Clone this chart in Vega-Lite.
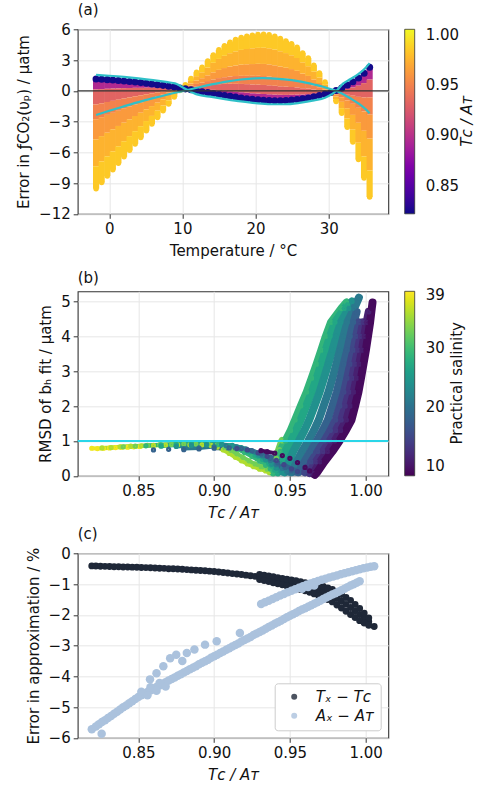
{
"$schema":"https://vega.github.io/schema/vega-lite/v6.json",
"autosize":{"type":"none"},
"padding":{"left":77.7,"top":29.3,"right":399.3,"bottom":757.7},
"bounds":"flush",
"spacing":77,
"config":{
"font":"DejaVu Sans",
"view":{"stroke":"#333333","strokeWidth":1.1},
"axis":{"domain":false,"labelFont":"DejaVu Sans","titleFont":"DejaVu Sans","labelFontSize":15,"titleFontSize":15,"titleFontWeight":"normal","labelColor":"#111","titleColor":"#111","tickColor":"#333","tickSize":4.5,"tickWidth":1,"gridColor":"#e6e6e6","gridWidth":1,"labelPadding":3,"titlePadding":7,"labelFlush":false,"labelOverlap":false},
"legend":{"labelFont":"DejaVu Sans","titleFont":"DejaVu Sans","labelFontSize":15,"titleFontSize":15,"titleFontWeight":"normal","labelColor":"#111","titleColor":"#111","gradientThickness":10,"gradientLength":184.5,"gradientStrokeColor":"#333","gradientStrokeWidth":0.8,"padding":0,"offset":15.7,"titleOrient":"right","titleAnchor":"middle","titleAlign":"center","titleBaseline":"top","titlePadding":5},
"title":{"anchor":"start","frame":"group","fontSize":15,"fontWeight":"normal","offset":0,"color":"#111","font":"DejaVu Sans"}
},
"datasets":{
"segs":[
{"t":-1.8,"a":1.15,"b":0.13,"r":0.895},{"t":-1.8,"a":0.13,"b":-1.33,"r":0.932},{"t":-1.8,"a":-1.33,"b":-2.77,"r":0.95},{"t":-1.8,"a":-2.77,"b":-4.74,"r":0.963},{"t":-1.8,"a":-4.74,"b":-7.36,"r":0.975},{"t":-1.8,"a":-7.36,"b":-9.55,"r":0.985},
{"t":-1.04,"a":1.12,"b":0.16,"r":0.895},{"t":-1.04,"a":0.16,"b":-1.22,"r":0.932},{"t":-1.04,"a":-1.22,"b":-2.57,"r":0.95},{"t":-1.04,"a":-2.57,"b":-4.42,"r":0.963},{"t":-1.04,"a":-4.42,"b":-6.89,"r":0.975},{"t":-1.04,"a":-6.89,"b":-8.95,"r":0.985},
{"t":-0.27,"a":1.09,"b":0.2,"r":0.895},{"t":-0.27,"a":0.2,"b":-1.09,"r":0.932},{"t":-0.27,"a":-1.09,"b":-2.35,"r":0.95},{"t":-0.27,"a":-2.35,"b":-4.09,"r":0.963},{"t":-0.27,"a":-4.09,"b":-6.39,"r":0.975},{"t":-0.27,"a":-6.39,"b":-8.32,"r":0.985},
{"t":0.49,"a":1.05,"b":0.22,"r":0.895},{"t":0.49,"a":0.22,"b":-0.98,"r":0.932},{"t":0.49,"a":-0.98,"b":-2.15,"r":0.95},{"t":0.49,"a":-2.15,"b":-3.76,"r":0.963},{"t":0.49,"a":-3.76,"b":-5.91,"r":0.975},{"t":0.49,"a":-5.91,"b":-7.7,"r":0.985},
{"t":1.25,"a":1.01,"b":0.24,"r":0.895},{"t":1.25,"a":0.24,"b":-0.87,"r":0.932},{"t":1.25,"a":-0.87,"b":-1.95,"r":0.95},{"t":1.25,"a":-1.95,"b":-3.43,"r":0.963},{"t":1.25,"a":-3.43,"b":-5.41,"r":0.975},{"t":1.25,"a":-5.41,"b":-7.07,"r":0.985},
{"t":2.02,"a":0.96,"b":0.26,"r":0.895},{"t":2.02,"a":0.26,"b":-0.76,"r":0.932},{"t":2.02,"a":-0.76,"b":-1.75,"r":0.95},{"t":2.02,"a":-1.75,"b":-3.11,"r":0.963},{"t":2.02,"a":-3.11,"b":-4.92,"r":0.975},{"t":2.02,"a":-4.92,"b":-6.44,"r":0.985},
{"t":2.78,"a":0.91,"b":0.27,"r":0.895},{"t":2.78,"a":0.27,"b":-0.65,"r":0.932},{"t":2.78,"a":-0.65,"b":-1.55,"r":0.95},{"t":2.78,"a":-1.55,"b":-2.78,"r":0.963},{"t":2.78,"a":-2.78,"b":-4.42,"r":0.975},{"t":2.78,"a":-4.42,"b":-5.8,"r":0.985},
{"t":3.54,"a":0.86,"b":0.29,"r":0.895},{"t":3.54,"a":0.29,"b":-0.54,"r":0.932},{"t":3.54,"a":-0.54,"b":-1.35,"r":0.95},{"t":3.54,"a":-1.35,"b":-2.46,"r":0.963},{"t":3.54,"a":-2.46,"b":-3.94,"r":0.975},{"t":3.54,"a":-3.94,"b":-5.18,"r":0.985},
{"t":4.31,"a":0.8,"b":0.29,"r":0.895},{"t":4.31,"a":0.29,"b":-0.44,"r":0.932},{"t":4.31,"a":-0.44,"b":-1.16,"r":0.95},{"t":4.31,"a":-1.16,"b":-2.14,"r":0.963},{"t":4.31,"a":-2.14,"b":-3.45,"r":0.975},{"t":4.31,"a":-3.45,"b":-4.55,"r":0.985},
{"t":5.07,"a":0.74,"b":0.3,"r":0.895},{"t":5.07,"a":0.3,"b":-0.34,"r":0.932},{"t":5.07,"a":-0.34,"b":-0.96,"r":0.95},{"t":5.07,"a":-0.96,"b":-1.81,"r":0.963},{"t":5.07,"a":-1.81,"b":-2.95,"r":0.975},{"t":5.07,"a":-2.95,"b":-3.9,"r":0.985},
{"t":5.83,"a":0.67,"b":0.3,"r":0.895},{"t":5.83,"a":0.3,"b":-0.24,"r":0.932},{"t":5.83,"a":-0.24,"b":-0.77,"r":0.95},{"t":5.83,"a":-0.77,"b":-1.49,"r":0.963},{"t":5.83,"a":-1.49,"b":-2.45,"r":0.975},{"t":5.83,"a":-2.45,"b":-3.25,"r":0.985},
{"t":6.6,"a":0.6,"b":0.3,"r":0.895},{"t":6.6,"a":0.3,"b":-0.14,"r":0.932},{"t":6.6,"a":-0.14,"b":-0.57,"r":0.95},{"t":6.6,"a":-0.57,"b":-1.16,"r":0.963},{"t":6.6,"a":-1.16,"b":-1.94,"r":0.975},{"t":6.6,"a":-1.94,"b":-2.6,"r":0.985},
{"t":7.36,"a":0.53,"b":0.29,"r":0.895},{"t":7.36,"a":0.29,"b":-0.05,"r":0.932},{"t":7.36,"a":-0.05,"b":-0.38,"r":0.95},{"t":7.36,"a":-0.38,"b":-0.83,"r":0.963},{"t":7.36,"a":-0.83,"b":-1.44,"r":0.975},{"t":7.36,"a":-1.44,"b":-1.95,"r":0.985},
{"t":8.12,"a":0.45,"b":0.29,"r":0.895},{"t":8.12,"a":0.29,"b":0.05,"r":0.932},{"t":8.12,"a":0.05,"b":-0.18,"r":0.95},{"t":8.12,"a":-0.18,"b":-0.5,"r":0.963},{"t":8.12,"a":-0.5,"b":-0.93,"r":0.975},{"t":8.12,"a":-0.93,"b":-1.28,"r":0.985},
{"t":8.89,"a":0.37,"b":0.28,"r":0.895},{"t":8.89,"a":0.28,"b":0.15,"r":0.932},{"t":8.89,"a":0.15,"b":0.02,"r":0.95},{"t":8.89,"a":0.02,"b":-0.16,"r":0.963},{"t":8.89,"a":-0.16,"b":-0.4,"r":0.975},{"t":8.89,"a":-0.4,"b":-0.6,"r":0.985},
{"t":9.65,"a":0.28,"b":0.26,"r":0.895},{"t":9.65,"a":0.26,"b":0.22,"r":0.932},{"t":9.65,"a":0.22,"b":0.19,"r":0.95},{"t":9.65,"a":0.19,"b":0.15,"r":0.963},{"t":9.65,"a":0.15,"b":0.09,"r":0.975},{"t":9.65,"a":0.09,"b":0.04,"r":0.985},
{"t":10.41,"a":0.19,"b":0.23,"r":0.895},{"t":10.41,"a":0.23,"b":0.29,"r":0.932},{"t":10.41,"a":0.29,"b":0.34,"r":0.95},{"t":10.41,"a":0.34,"b":0.42,"r":0.963},{"t":10.41,"a":0.42,"b":0.52,"r":0.975},{"t":10.41,"a":0.52,"b":0.6,"r":0.985},
{"t":11.18,"a":0.1,"b":0.21,"r":0.895},{"t":11.18,"a":0.21,"b":0.36,"r":0.932},{"t":11.18,"a":0.36,"b":0.5,"r":0.95},{"t":11.18,"a":0.5,"b":0.71,"r":0.963},{"t":11.18,"a":0.71,"b":0.98,"r":0.975},{"t":11.18,"a":0.98,"b":1.2,"r":0.985},
{"t":11.94,"a":0.01,"b":0.18,"r":0.895},{"t":11.94,"a":0.18,"b":0.43,"r":0.932},{"t":11.94,"a":0.43,"b":0.67,"r":0.95},{"t":11.94,"a":0.67,"b":1.0,"r":0.963},{"t":11.94,"a":1.0,"b":1.43,"r":0.975},{"t":11.94,"a":1.43,"b":1.8,"r":0.985},
{"t":12.7,"a":-0.09,"b":0.14,"r":0.895},{"t":12.7,"a":0.14,"b":0.46,"r":0.932},{"t":12.7,"a":0.46,"b":0.79,"r":0.95},{"t":12.7,"a":0.79,"b":1.23,"r":0.963},{"t":12.7,"a":1.23,"b":1.81,"r":0.975},{"t":12.7,"a":1.81,"b":2.3,"r":0.985},
{"t":13.47,"a":-0.18,"b":0.11,"r":0.895},{"t":13.47,"a":0.11,"b":0.54,"r":0.932},{"t":13.47,"a":0.54,"b":0.95,"r":0.95},{"t":13.47,"a":0.95,"b":1.51,"r":0.963},{"t":13.47,"a":1.51,"b":2.27,"r":0.975},{"t":13.47,"a":2.27,"b":2.9,"r":0.985},
{"t":14.23,"a":-0.27,"b":0.09,"r":0.895},{"t":14.23,"a":0.09,"b":0.61,"r":0.932},{"t":14.23,"a":0.61,"b":1.11,"r":0.95},{"t":14.23,"a":1.11,"b":1.8,"r":0.963},{"t":14.23,"a":1.8,"b":2.73,"r":0.975},{"t":14.23,"a":2.73,"b":3.5,"r":0.985},
{"t":14.99,"a":-0.36,"b":0.05,"r":0.895},{"t":14.99,"a":0.05,"b":0.65,"r":0.932},{"t":14.99,"a":0.65,"b":1.24,"r":0.95},{"t":14.99,"a":1.24,"b":2.04,"r":0.963},{"t":14.99,"a":2.04,"b":3.11,"r":0.975},{"t":14.99,"a":3.11,"b":4.0,"r":0.985},
{"t":15.76,"a":-0.45,"b":0.01,"r":0.895},{"t":15.76,"a":0.01,"b":0.68,"r":0.932},{"t":15.76,"a":0.68,"b":1.33,"r":0.95},{"t":15.76,"a":1.33,"b":2.22,"r":0.963},{"t":15.76,"a":2.22,"b":3.41,"r":0.975},{"t":15.76,"a":3.41,"b":4.4,"r":0.985},
{"t":16.52,"a":-0.54,"b":-0.04,"r":0.895},{"t":16.52,"a":-0.04,"b":0.69,"r":0.932},{"t":16.52,"a":0.69,"b":1.4,"r":0.95},{"t":16.52,"a":1.4,"b":2.37,"r":0.963},{"t":16.52,"a":2.37,"b":3.67,"r":0.975},{"t":16.52,"a":3.67,"b":4.75,"r":0.985},
{"t":17.28,"a":-0.62,"b":-0.09,"r":0.895},{"t":17.28,"a":-0.09,"b":0.68,"r":0.932},{"t":17.28,"a":0.68,"b":1.44,"r":0.95},{"t":17.28,"a":1.44,"b":2.47,"r":0.963},{"t":17.28,"a":2.47,"b":3.85,"r":0.975},{"t":17.28,"a":3.85,"b":5.0,"r":0.985},
{"t":18.05,"a":-0.7,"b":-0.14,"r":0.895},{"t":18.05,"a":-0.14,"b":0.67,"r":0.932},{"t":18.05,"a":0.67,"b":1.46,"r":0.95},{"t":18.05,"a":1.46,"b":2.55,"r":0.963},{"t":18.05,"a":2.55,"b":3.99,"r":0.975},{"t":18.05,"a":3.99,"b":5.2,"r":0.985},
{"t":18.81,"a":-0.77,"b":-0.19,"r":0.895},{"t":18.81,"a":-0.19,"b":0.65,"r":0.932},{"t":18.81,"a":0.65,"b":1.46,"r":0.95},{"t":18.81,"a":1.46,"b":2.59,"r":0.963},{"t":18.81,"a":2.59,"b":4.08,"r":0.975},{"t":18.81,"a":4.08,"b":5.33,"r":0.985},
{"t":19.57,"a":-0.83,"b":-0.24,"r":0.895},{"t":19.57,"a":-0.24,"b":0.62,"r":0.932},{"t":19.57,"a":0.62,"b":1.46,"r":0.95},{"t":19.57,"a":1.46,"b":2.61,"r":0.963},{"t":19.57,"a":2.61,"b":4.15,"r":0.975},{"t":19.57,"a":4.15,"b":5.43,"r":0.985},
{"t":20.34,"a":-0.88,"b":-0.27,"r":0.895},{"t":20.34,"a":-0.27,"b":0.6,"r":0.932},{"t":20.34,"a":0.6,"b":1.46,"r":0.95},{"t":20.34,"a":1.46,"b":2.63,"r":0.963},{"t":20.34,"a":2.63,"b":4.19,"r":0.975},{"t":20.34,"a":4.19,"b":5.5,"r":0.985},
{"t":21.1,"a":-0.92,"b":-0.31,"r":0.895},{"t":21.1,"a":-0.31,"b":0.57,"r":0.932},{"t":21.1,"a":0.57,"b":1.44,"r":0.95},{"t":21.1,"a":1.44,"b":2.62,"r":0.963},{"t":21.1,"a":2.62,"b":4.2,"r":0.975},{"t":21.1,"a":4.2,"b":5.52,"r":0.985},
{"t":21.86,"a":-0.95,"b":-0.34,"r":0.895},{"t":21.86,"a":-0.34,"b":0.54,"r":0.932},{"t":21.86,"a":0.54,"b":1.4,"r":0.95},{"t":21.86,"a":1.4,"b":2.58,"r":0.963},{"t":21.86,"a":2.58,"b":4.15,"r":0.975},{"t":21.86,"a":4.15,"b":5.46,"r":0.985},
{"t":22.63,"a":-0.97,"b":-0.37,"r":0.895},{"t":22.63,"a":-0.37,"b":0.49,"r":0.932},{"t":22.63,"a":0.49,"b":1.33,"r":0.95},{"t":22.63,"a":1.33,"b":2.49,"r":0.963},{"t":22.63,"a":2.49,"b":4.03,"r":0.975},{"t":22.63,"a":4.03,"b":5.32,"r":0.985},
{"t":23.39,"a":-0.97,"b":-0.39,"r":0.895},{"t":23.39,"a":-0.39,"b":0.44,"r":0.932},{"t":23.39,"a":0.44,"b":1.25,"r":0.95},{"t":23.39,"a":1.25,"b":2.37,"r":0.963},{"t":23.39,"a":2.37,"b":3.86,"r":0.975},{"t":23.39,"a":3.86,"b":5.1,"r":0.985},
{"t":24.15,"a":-0.95,"b":-0.4,"r":0.895},{"t":24.15,"a":-0.4,"b":0.4,"r":0.932},{"t":24.15,"a":0.4,"b":1.18,"r":0.95},{"t":24.15,"a":1.18,"b":2.25,"r":0.963},{"t":24.15,"a":2.25,"b":3.68,"r":0.975},{"t":24.15,"a":3.68,"b":4.87,"r":0.985},
{"t":24.92,"a":-0.91,"b":-0.39,"r":0.895},{"t":24.92,"a":-0.39,"b":0.37,"r":0.932},{"t":24.92,"a":0.37,"b":1.11,"r":0.95},{"t":24.92,"a":1.11,"b":2.12,"r":0.963},{"t":24.92,"a":2.12,"b":3.47,"r":0.975},{"t":24.92,"a":3.47,"b":4.6,"r":0.985},
{"t":25.68,"a":-0.86,"b":-0.37,"r":0.895},{"t":25.68,"a":-0.37,"b":0.33,"r":0.932},{"t":25.68,"a":0.33,"b":1.01,"r":0.95},{"t":25.68,"a":1.01,"b":1.95,"r":0.963},{"t":25.68,"a":1.95,"b":3.2,"r":0.975},{"t":25.68,"a":3.2,"b":4.25,"r":0.985},
{"t":26.44,"a":-0.79,"b":-0.36,"r":0.895},{"t":26.44,"a":-0.36,"b":0.25,"r":0.932},{"t":26.44,"a":0.25,"b":0.85,"r":0.95},{"t":26.44,"a":0.85,"b":1.68,"r":0.963},{"t":26.44,"a":1.68,"b":2.78,"r":0.975},{"t":26.44,"a":2.78,"b":3.7,"r":0.985},
{"t":27.21,"a":-0.7,"b":-0.33,"r":0.895},{"t":27.21,"a":-0.33,"b":0.21,"r":0.932},{"t":27.21,"a":0.21,"b":0.73,"r":0.95},{"t":27.21,"a":0.73,"b":1.45,"r":0.963},{"t":27.21,"a":1.45,"b":2.4,"r":0.975},{"t":27.21,"a":2.4,"b":3.2,"r":0.985},
{"t":27.97,"a":-0.59,"b":-0.3,"r":0.895},{"t":27.97,"a":-0.3,"b":0.13,"r":0.932},{"t":27.97,"a":0.13,"b":0.54,"r":0.95},{"t":27.97,"a":0.54,"b":1.11,"r":0.963},{"t":27.97,"a":1.11,"b":1.87,"r":0.975},{"t":27.97,"a":1.87,"b":2.5,"r":0.985},
{"t":28.73,"a":-0.46,"b":-0.25,"r":0.895},{"t":28.73,"a":-0.25,"b":0.05,"r":0.932},{"t":28.73,"a":0.05,"b":0.35,"r":0.95},{"t":28.73,"a":0.35,"b":0.76,"r":0.963},{"t":28.73,"a":0.76,"b":1.3,"r":0.975},{"t":28.73,"a":1.3,"b":1.75,"r":0.985},
{"t":29.5,"a":-0.32,"b":-0.21,"r":0.895},{"t":29.5,"a":-0.21,"b":-0.05,"r":0.932},{"t":29.5,"a":-0.05,"b":0.11,"r":0.95},{"t":29.5,"a":0.11,"b":0.32,"r":0.963},{"t":29.5,"a":0.32,"b":0.61,"r":0.975},{"t":29.5,"a":0.61,"b":0.85,"r":0.985},
{"t":30.26,"a":-0.16,"b":-0.17,"r":0.895},{"t":30.26,"a":-0.17,"b":-0.18,"r":0.932},{"t":30.26,"a":-0.18,"b":-0.19,"r":0.95},{"t":30.26,"a":-0.19,"b":-0.21,"r":0.963},{"t":30.26,"a":-0.21,"b":-0.23,"r":0.975},{"t":30.26,"a":-0.23,"b":-0.25,"r":0.985},
{"t":31.02,"a":0.03,"b":-0.07,"r":0.895},{"t":31.02,"a":-0.07,"b":-0.22,"r":0.932},{"t":31.02,"a":-0.22,"b":-0.37,"r":0.95},{"t":31.02,"a":-0.37,"b":-0.56,"r":0.963},{"t":31.02,"a":-0.56,"b":-0.83,"r":0.975},{"t":31.02,"a":-0.83,"b":-1.05,"r":0.985},
{"t":31.79,"a":0.28,"b":0.04,"r":0.895},{"t":31.79,"a":0.04,"b":-0.3,"r":0.932},{"t":31.79,"a":-0.3,"b":-0.63,"r":0.95},{"t":31.79,"a":-0.63,"b":-1.08,"r":0.963},{"t":31.79,"a":-1.08,"b":-1.69,"r":0.975},{"t":31.79,"a":-1.69,"b":-2.2,"r":0.985},
{"t":32.55,"a":0.57,"b":0.18,"r":0.895},{"t":32.55,"a":0.18,"b":-0.39,"r":0.932},{"t":32.55,"a":-0.39,"b":-0.94,"r":0.95},{"t":32.55,"a":-0.94,"b":-1.7,"r":0.963},{"t":32.55,"a":-1.7,"b":-2.71,"r":0.975},{"t":32.55,"a":-2.71,"b":-3.55,"r":0.985},
{"t":33.31,"a":0.88,"b":0.32,"r":0.895},{"t":33.31,"a":0.32,"b":-0.48,"r":0.932},{"t":33.31,"a":-0.48,"b":-1.27,"r":0.95},{"t":33.31,"a":-1.27,"b":-2.35,"r":0.963},{"t":33.31,"a":-2.35,"b":-3.79,"r":0.975},{"t":33.31,"a":-3.79,"b":-5.0,"r":0.985},
{"t":34.08,"a":1.25,"b":0.5,"r":0.895},{"t":34.08,"a":0.5,"b":-0.59,"r":0.932},{"t":34.08,"a":-0.59,"b":-1.66,"r":0.95},{"t":34.08,"a":-1.66,"b":-3.12,"r":0.963},{"t":34.08,"a":-3.12,"b":-5.07,"r":0.975},{"t":34.08,"a":-5.07,"b":-6.7,"r":0.985},
{"t":34.84,"a":1.72,"b":0.75,"r":0.895},{"t":34.84,"a":0.75,"b":-0.65,"r":0.932},{"t":34.84,"a":-0.65,"b":-2.02,"r":0.95},{"t":34.84,"a":-2.02,"b":-3.9,"r":0.963},{"t":34.84,"a":-3.9,"b":-6.41,"r":0.975},{"t":34.84,"a":-6.41,"b":-8.5,"r":0.985},
{"t":35.6,"a":2.3,"b":1.1,"r":0.895},{"t":35.6,"a":1.1,"b":-0.64,"r":0.932},{"t":35.6,"a":-0.64,"b":-2.33,"r":0.95},{"t":35.6,"a":-2.33,"b":-4.66,"r":0.963},{"t":35.6,"a":-4.66,"b":-7.77,"r":0.975},{"t":35.6,"a":-7.77,"b":-10.36,"r":0.985}
],
"fits":[
{"t":-1.8,"v":1.55,"k":"A"},{"t":0,"v":1.47,"k":"A"},{"t":2,"v":1.36,"k":"A"},{"t":4,"v":1.22,"k":"A"},{"t":6,"v":1.05,"k":"A"},{"t":8,"v":0.84,"k":"A"},{"t":9,"v":0.72,"k":"A"},{"t":10.4,"v":0.2,"k":"A"},{"t":12,"v":-0.35,"k":"A"},{"t":14,"v":-0.6,"k":"A"},{"t":16,"v":-0.83,"k":"A"},{"t":18,"v":-1.04,"k":"A"},{"t":20,"v":-1.21,"k":"A"},{"t":22,"v":-1.31,"k":"A"},{"t":24,"v":-1.31,"k":"A"},{"t":26,"v":-1.18,"k":"A"},{"t":28,"v":-0.94,"k":"A"},{"t":29.5,"v":-0.67,"k":"A"},{"t":30.5,"v":-0.3,"k":"A"},{"t":31.2,"v":0.1,"k":"A"},{"t":32,"v":0.72,"k":"A"},{"t":33,"v":1.15,"k":"A"},{"t":34,"v":1.6,"k":"A"},{"t":35,"v":2.2,"k":"A"},{"t":35.6,"v":2.7,"k":"A"},
{"t":-1.8,"v":-2.36,"k":"B"},{"t":0,"v":-1.95,"k":"B"},{"t":2,"v":-1.52,"k":"B"},{"t":4,"v":-1.1,"k":"B"},{"t":6,"v":-0.72,"k":"B"},{"t":8,"v":-0.36,"k":"B"},{"t":10,"v":-0.03,"k":"B"},{"t":12,"v":0.3,"k":"B"},{"t":14,"v":0.62,"k":"B"},{"t":16,"v":0.9,"k":"B"},{"t":18,"v":1.1,"k":"B"},{"t":20,"v":1.21,"k":"B"},{"t":21,"v":1.23,"k":"B"},{"t":22,"v":1.21,"k":"B"},{"t":24,"v":1.12,"k":"B"},{"t":26,"v":0.92,"k":"B"},{"t":28,"v":0.62,"k":"B"},{"t":29,"v":0.45,"k":"B"},{"t":30,"v":0.22,"k":"B"},{"t":31,"v":0.0,"k":"B"},{"t":32,"v":-0.33,"k":"B"},{"t":33,"v":-0.75,"k":"B"},{"t":34,"v":-1.2,"k":"B"},{"t":35,"v":-1.75,"k":"B"},{"t":35.6,"v":-2.2,"k":"B"}
],
"rmsd":[
{"r":0.8193,"m":0.79,"s":39},{"r":0.823,"m":0.78,"s":39},{"r":0.827,"m":0.79,"s":39},{"r":0.831,"m":0.8,"s":39},{"r":0.835,"m":0.81,"s":39},{"r":0.839,"m":0.82,"s":39},{"r":0.843,"m":0.82,"s":39},{"r":0.847,"m":0.83,"s":39},{"r":0.851,"m":0.84,"s":39},
{"r":0.826,"m":0.8,"s":36},{"r":0.832,"m":0.81,"s":36},{"r":0.838,"m":0.83,"s":36},{"r":0.845,"m":0.85,"s":36},{"r":0.852,"m":0.86,"s":36},{"r":0.86,"m":0.87,"s":36},{"r":0.868,"m":0.88,"s":36},{"r":0.876,"m":0.89,"s":36},{"r":0.884,"m":0.89,"s":36},{"r":0.892,"m":0.89,"s":36},{"r":0.898,"m":0.87,"s":36},{"r":0.902,"m":0.82,"s":36},{"r":0.906,"m":0.74,"s":36},{"r":0.91,"m":0.64,"s":36},{"r":0.914,"m":0.53,"s":36},{"r":0.918,"m":0.43,"s":36},{"r":0.922,"m":0.34,"s":36},{"r":0.926,"m":0.26,"s":36},{"r":0.93,"m":0.19,"s":36},{"r":0.934,"m":0.14,"s":36},{"r":0.937,"m":0.12,"s":36},
{"r":0.84,"m":0.83,"s":33},{"r":0.848,"m":0.85,"s":33},{"r":0.856,"m":0.87,"s":33},{"r":0.864,"m":0.89,"s":33},{"r":0.872,"m":0.9,"s":33},{"r":0.88,"m":0.91,"s":33},{"r":0.888,"m":0.91,"s":33},{"r":0.896,"m":0.91,"s":33},{"r":0.902,"m":0.88,"s":33},{"r":0.907,"m":0.82,"s":33},{"r":0.911,"m":0.73,"s":33},{"r":0.915,"m":0.63,"s":33},{"r":0.919,"m":0.53,"s":33},{"r":0.923,"m":0.43,"s":33},{"r":0.927,"m":0.34,"s":33},{"r":0.931,"m":0.26,"s":33},{"r":0.935,"m":0.19,"s":33},{"r":0.938,"m":0.15,"s":33},{"r":0.9395,"m":0.3,"s":33},{"r":0.941,"m":0.5,"s":33},{"r":0.943,"m":0.75,"s":33},{"r":0.945,"m":1.0,"s":33},
{"r":0.855,"m":0.86,"s":29},{"r":0.865,"m":0.89,"s":29},{"r":0.875,"m":0.91,"s":29},{"r":0.885,"m":0.92,"s":29},{"r":0.895,"m":0.92,"s":29},{"r":0.903,"m":0.9,"s":29},{"r":0.909,"m":0.85,"s":29},{"r":0.915,"m":0.77,"s":29},{"r":0.92,"m":0.67,"s":29},{"r":0.925,"m":0.55,"s":29},{"r":0.93,"m":0.42,"s":29},{"r":0.934,"m":0.3,"s":29},{"r":0.937,"m":0.2,"s":29},{"r":0.939,"m":0.1,"s":29},{"r":0.9415,"m":0.4,"s":29},{"r":0.9436,"m":0.7,"s":29},{"r":0.9471,"m":1.0,"s":29},{"r":0.9505,"m":1.3,"s":29},{"r":0.9534,"m":1.6,"s":29},{"r":0.9572,"m":2.0,"s":29},{"r":0.9611,"m":2.4,"s":29},{"r":0.9644,"m":2.8,"s":29},{"r":0.9676,"m":3.2,"s":29},{"r":0.9707,"m":3.6,"s":29},{"r":0.9737,"m":4.0,"s":29},{"r":0.9771,"m":4.4,"s":29},{"r":0.984,"m":4.8,"s":29},{"r":0.9874,"m":4.97,"s":29},
{"r":0.865,"m":0.85,"s":27},{"r":0.875,"m":0.88,"s":27},{"r":0.885,"m":0.9,"s":27},{"r":0.895,"m":0.91,"s":27},{"r":0.905,"m":0.9,"s":27},{"r":0.911,"m":0.86,"s":27},{"r":0.917,"m":0.79,"s":27},{"r":0.922,"m":0.7,"s":27},{"r":0.927,"m":0.59,"s":27},{"r":0.932,"m":0.47,"s":27},{"r":0.936,"m":0.36,"s":27},{"r":0.938,"m":0.28,"s":27},{"r":0.94,"m":0.16,"s":27},{"r":0.9419,"m":0.1,"s":27},{"r":0.9446,"m":0.4,"s":27},{"r":0.947,"m":0.7,"s":27},{"r":0.9507,"m":1.0,"s":27},{"r":0.9541,"m":1.3,"s":27},{"r":0.9571,"m":1.6,"s":27},{"r":0.9608,"m":2.0,"s":27},{"r":0.9645,"m":2.4,"s":27},{"r":0.9677,"m":2.8,"s":27},{"r":0.9707,"m":3.2,"s":27},{"r":0.9736,"m":3.6,"s":27},{"r":0.9765,"m":4.0,"s":27},{"r":0.9797,"m":4.4,"s":27},{"r":0.986,"m":4.8,"s":27},{"r":0.988,"m":4.9,"s":27},
{"r":0.875,"m":0.84,"s":24},{"r":0.885,"m":0.87,"s":24},{"r":0.895,"m":0.89,"s":24},{"r":0.905,"m":0.9,"s":24},{"r":0.912,"m":0.87,"s":24},{"r":0.918,"m":0.81,"s":24},{"r":0.924,"m":0.72,"s":24},{"r":0.929,"m":0.6,"s":24},{"r":0.934,"m":0.46,"s":24},{"r":0.938,"m":0.33,"s":24},{"r":0.941,"m":0.22,"s":24},{"r":0.944,"m":0.14,"s":24},{"r":0.9463,"m":0.1,"s":24},{"r":0.9493,"m":0.4,"s":24},{"r":0.9522,"m":0.7,"s":24},{"r":0.956,"m":1.0,"s":24},{"r":0.9596,"m":1.3,"s":24},{"r":0.9627,"m":1.6,"s":24},{"r":0.9662,"m":2.0,"s":24},{"r":0.9696,"m":2.4,"s":24},{"r":0.9725,"m":2.8,"s":24},{"r":0.9753,"m":3.2,"s":24},{"r":0.9781,"m":3.6,"s":24},{"r":0.9807,"m":4.0,"s":24},{"r":0.9836,"m":4.4,"s":24},{"r":0.989,"m":4.8,"s":24},{"r":0.991,"m":5.0,"s":24},
{"r":0.88,"m":0.78,"s":21},{"r":0.89,"m":0.8,"s":21},{"r":0.9,"m":0.84,"s":21},{"r":0.908,"m":0.86,"s":21},{"r":0.915,"m":0.83,"s":21},{"r":0.921,"m":0.77,"s":21},{"r":0.927,"m":0.68,"s":21},{"r":0.932,"m":0.57,"s":21},{"r":0.937,"m":0.44,"s":21},{"r":0.941,"m":0.32,"s":21},{"r":0.945,"m":0.21,"s":21},{"r":0.948,"m":0.13,"s":21},{"r":0.9512,"m":0.1,"s":21},{"r":0.9546,"m":0.4,"s":21},{"r":0.958,"m":0.7,"s":21},{"r":0.9621,"m":1.0,"s":21},{"r":0.9658,"m":1.3,"s":21},{"r":0.969,"m":1.6,"s":21},{"r":0.9722,"m":2.0,"s":21},{"r":0.9754,"m":2.4,"s":21},{"r":0.9781,"m":2.8,"s":21},{"r":0.9806,"m":3.2,"s":21},{"r":0.983,"m":3.6,"s":21},{"r":0.9854,"m":4.0,"s":21},{"r":0.9879,"m":4.4,"s":21},{"r":0.9924,"m":4.8,"s":21},{"r":0.9955,"m":5.11,"s":21},
{"r":0.86,"m":0.74,"s":18},{"r":0.87,"m":0.76,"s":18},{"r":0.88,"m":0.75,"s":18},{"r":0.89,"m":0.77,"s":18},{"r":0.9,"m":0.79,"s":18},{"r":0.91,"m":0.8,"s":18},{"r":0.918,"m":0.78,"s":18},{"r":0.925,"m":0.72,"s":18},{"r":0.931,"m":0.63,"s":18},{"r":0.937,"m":0.5,"s":18},{"r":0.942,"m":0.37,"s":18},{"r":0.947,"m":0.24,"s":18},{"r":0.951,"m":0.14,"s":18},{"r":0.9558,"m":0.1,"s":18},{"r":0.9596,"m":0.4,"s":18},{"r":0.9636,"m":0.7,"s":18},{"r":0.9677,"m":1.0,"s":18},{"r":0.9716,"m":1.3,"s":18},{"r":0.975,"m":1.6,"s":18},{"r":0.978,"m":2.0,"s":18},{"r":0.9809,"m":2.4,"s":18},{"r":0.9833,"m":2.8,"s":18},{"r":0.9855,"m":3.2,"s":18},{"r":0.9878,"m":3.6,"s":18},{"r":0.9898,"m":4.0,"s":18},{"r":0.9921,"m":4.4,"s":18},{"r":0.994,"m":4.7,"s":18},
{"r":0.915,"m":0.78,"s":15},{"r":0.922,"m":0.74,"s":15},{"r":0.929,"m":0.66,"s":15},{"r":0.935,"m":0.56,"s":15},{"r":0.941,"m":0.44,"s":15},{"r":0.946,"m":0.32,"s":15},{"r":0.951,"m":0.2,"s":15},{"r":0.955,"m":0.12,"s":15},{"r":0.9599,"m":0.1,"s":15},{"r":0.964,"m":0.4,"s":15},{"r":0.9684,"m":0.7,"s":15},{"r":0.9727,"m":1.0,"s":15},{"r":0.9767,"m":1.3,"s":15},{"r":0.9802,"m":1.6,"s":15},{"r":0.983,"m":2.0,"s":15},{"r":0.9857,"m":2.4,"s":15},{"r":0.9878,"m":2.8,"s":15},{"r":0.9898,"m":3.2,"s":15},{"r":0.9919,"m":3.6,"s":15},{"r":0.9937,"m":4.0,"s":15},{"r":0.9957,"m":4.4,"s":15},
{"r":0.9628,"m":0.08,"s":13},{"r":0.9671,"m":0.4,"s":13},{"r":0.9718,"m":0.7,"s":13},{"r":0.9763,"m":1.0,"s":13},{"r":0.9803,"m":1.3,"s":13},{"r":0.9839,"m":1.6,"s":13},{"r":0.9866,"m":2.0,"s":13},{"r":0.9891,"m":2.4,"s":13},{"r":0.9911,"m":2.8,"s":13},{"r":0.9929,"m":3.2,"s":13},{"r":0.9948,"m":3.6,"s":13},{"r":0.9965,"m":4.0,"s":13},{"r":0.9983,"m":4.4,"s":13},
{"r":0.9654,"m":0.06,"s":11},{"r":0.9699,"m":0.4,"s":11},{"r":0.9749,"m":0.7,"s":11},{"r":0.9795,"m":1.0,"s":11},{"r":0.9836,"m":1.3,"s":11},{"r":0.9873,"m":1.6,"s":11},{"r":0.9898,"m":2.0,"s":11},{"r":0.9921,"m":2.4,"s":11},{"r":0.994,"m":2.8,"s":11},{"r":0.9957,"m":3.2,"s":11},{"r":0.9975,"m":3.6,"s":11},{"r":0.999,"m":4.0,"s":11},{"r":1.0006,"m":4.4,"s":11},{"r":1.002,"m":4.7,"s":11},
{"r":0.9309,"m":0.72,"s":9},{"r":0.935,"m":0.69,"s":9},{"r":0.94,"m":0.65,"s":9},{"r":0.945,"m":0.58,"s":9},{"r":0.95,"m":0.5,"s":9},{"r":0.955,"m":0.38,"s":9},{"r":0.96,"m":0.24,"s":9},{"r":0.963,"m":0.14,"s":9},{"r":0.9665,"m":0.03,"s":9},{"r":0.968,"m":0.1,"s":9},{"r":0.9727,"m":0.4,"s":9},{"r":0.978,"m":0.7,"s":9},{"r":0.9827,"m":1.0,"s":9},{"r":0.9869,"m":1.3,"s":9},{"r":0.9906,"m":1.6,"s":9},{"r":0.993,"m":2.0,"s":9},{"r":0.9952,"m":2.4,"s":9},{"r":0.9969,"m":2.8,"s":9},{"r":0.9985,"m":3.2,"s":9},{"r":1.0001,"m":3.6,"s":9},{"r":1.0015,"m":4.0,"s":9},{"r":1.0029,"m":4.4,"s":9},{"r":1.004,"m":4.8,"s":9},{"r":1.0045,"m":4.97,"s":9}
],
"approx":[
{"r":0.8193,"e":-0.41,"k":"T"},{"r":0.822,"e":-0.415,"k":"T"},{"r":0.825,"e":-0.42,"k":"T"},{"r":0.828,"e":-0.425,"k":"T"},{"r":0.831,"e":-0.43,"k":"T"},{"r":0.834,"e":-0.435,"k":"T"},{"r":0.837,"e":-0.44,"k":"T"},{"r":0.84,"e":-0.443,"k":"T"},{"r":0.843,"e":-0.447,"k":"T"},{"r":0.846,"e":-0.45,"k":"T"},{"r":0.849,"e":-0.455,"k":"T"},{"r":0.852,"e":-0.46,"k":"T"},{"r":0.855,"e":-0.465,"k":"T"},{"r":0.858,"e":-0.47,"k":"T"},{"r":0.861,"e":-0.48,"k":"T"},{"r":0.864,"e":-0.485,"k":"T"},{"r":0.867,"e":-0.49,"k":"T"},{"r":0.87,"e":-0.5,"k":"T"},{"r":0.873,"e":-0.505,"k":"T"},{"r":0.876,"e":-0.51,"k":"T"},{"r":0.879,"e":-0.52,"k":"T"},{"r":0.882,"e":-0.53,"k":"T"},{"r":0.885,"e":-0.54,"k":"T"},{"r":0.888,"e":-0.55,"k":"T"},{"r":0.891,"e":-0.56,"k":"T"},{"r":0.894,"e":-0.57,"k":"T"},{"r":0.897,"e":-0.58,"k":"T"},{"r":0.9,"e":-0.59,"k":"T"},{"r":0.903,"e":-0.61,"k":"T"},{"r":0.906,"e":-0.625,"k":"T"},{"r":0.909,"e":-0.64,"k":"T"},{"r":0.912,"e":-0.66,"k":"T"},{"r":0.915,"e":-0.675,"k":"T"},{"r":0.918,"e":-0.69,"k":"T"},{"r":0.921,"e":-0.71,"k":"T"},{"r":0.924,"e":-0.73,"k":"T"},{"r":0.927,"e":-0.75,"k":"T"},{"r":0.93,"e":-0.77,"k":"T"},{"r":0.933,"e":-0.8,"k":"T"},{"r":0.936,"e":-0.83,"k":"T"},{"r":0.939,"e":-0.86,"k":"T"},{"r":0.942,"e":-0.89,"k":"T"},{"r":0.945,"e":-0.92,"k":"T"},{"r":0.948,"e":-0.95,"k":"T"},{"r":0.951,"e":-0.98,"k":"T"},{"r":0.954,"e":-1.01,"k":"T"},{"r":0.957,"e":-1.05,"k":"T"},{"r":0.96,"e":-1.09,"k":"T"},{"r":0.963,"e":-1.13,"k":"T"},{"r":0.966,"e":-1.17,"k":"T"},{"r":0.969,"e":-1.21,"k":"T"},{"r":0.972,"e":-1.25,"k":"T"},{"r":0.975,"e":-1.3,"k":"T"},{"r":0.978,"e":-1.38,"k":"T"},{"r":0.981,"e":-1.47,"k":"T"},{"r":0.984,"e":-1.56,"k":"T"},{"r":0.987,"e":-1.66,"k":"T"},{"r":0.99,"e":-1.76,"k":"T"},{"r":0.993,"e":-1.87,"k":"T"},{"r":0.996,"e":-1.99,"k":"T"},{"r":0.999,"e":-2.1,"k":"T"},{"r":1.002,"e":-2.22,"k":"T"},{"r":1.0056,"e":-2.38,"k":"T"},
{"r":0.93,"e":-0.69,"k":"T"},{"r":0.933,"e":-0.715,"k":"T"},{"r":0.936,"e":-0.74,"k":"T"},{"r":0.939,"e":-0.765,"k":"T"},{"r":0.942,"e":-0.79,"k":"T"},{"r":0.945,"e":-0.815,"k":"T"},{"r":0.948,"e":-0.84,"k":"T"},{"r":0.951,"e":-0.865,"k":"T"},{"r":0.954,"e":-0.89,"k":"T"},{"r":0.957,"e":-0.925,"k":"T"},{"r":0.96,"e":-0.96,"k":"T"},{"r":0.963,"e":-0.99,"k":"T"},{"r":0.966,"e":-1.02,"k":"T"},{"r":0.969,"e":-1.05,"k":"T"},{"r":0.972,"e":-1.08,"k":"T"},{"r":0.975,"e":-1.13,"k":"T"},{"r":0.978,"e":-1.18,"k":"T"},{"r":0.981,"e":-1.26,"k":"T"},{"r":0.984,"e":-1.34,"k":"T"},{"r":0.987,"e":-1.435,"k":"T"},{"r":0.99,"e":-1.53,"k":"T"},{"r":0.993,"e":-1.66,"k":"T"},{"r":0.996,"e":-1.79,"k":"T"},{"r":0.999,"e":-1.945,"k":"T"},{"r":1.002,"e":-2.1,"k":"T"},
{"r":0.93,"e":-0.85,"k":"T"},{"r":0.933,"e":-0.885,"k":"T"},{"r":0.936,"e":-0.92,"k":"T"},{"r":0.939,"e":-0.955,"k":"T"},{"r":0.942,"e":-0.99,"k":"T"},{"r":0.945,"e":-1.025,"k":"T"},{"r":0.948,"e":-1.06,"k":"T"},{"r":0.951,"e":-1.095,"k":"T"},{"r":0.954,"e":-1.13,"k":"T"},{"r":0.957,"e":-1.175,"k":"T"},{"r":0.96,"e":-1.22,"k":"T"},{"r":0.963,"e":-1.27,"k":"T"},{"r":0.966,"e":-1.32,"k":"T"},{"r":0.969,"e":-1.37,"k":"T"},{"r":0.972,"e":-1.42,"k":"T"},{"r":0.975,"e":-1.5,"k":"T"},{"r":0.978,"e":-1.58,"k":"T"},{"r":0.981,"e":-1.68,"k":"T"},{"r":0.984,"e":-1.78,"k":"T"},{"r":0.987,"e":-1.885,"k":"T"},{"r":0.99,"e":-1.99,"k":"T"},{"r":0.993,"e":-2.09,"k":"T"},{"r":0.996,"e":-2.19,"k":"T"},{"r":0.999,"e":-2.265,"k":"T"},{"r":1.002,"e":-2.34,"k":"T"},
{"r":0.8193,"e":-5.72,"k":"A"},{"r":0.824,"e":-5.56,"k":"A"},{"r":0.828,"e":-5.43,"k":"A"},{"r":0.832,"e":-5.29,"k":"A"},{"r":0.836,"e":-5.15,"k":"A"},{"r":0.84,"e":-5.01,"k":"A"},{"r":0.844,"e":-4.88,"k":"A"},{"r":0.848,"e":-4.74,"k":"A"},{"r":0.852,"e":-4.62,"k":"A"},{"r":0.856,"e":-4.51,"k":"A"},{"r":0.86,"e":-4.41,"k":"A"},{"r":0.864,"e":-4.3,"k":"A"},{"r":0.868,"e":-4.19,"k":"A"},{"r":0.872,"e":-4.09,"k":"A"},{"r":0.876,"e":-3.98,"k":"A"},{"r":0.88,"e":-3.88,"k":"A"},{"r":0.884,"e":-3.77,"k":"A"},{"r":0.888,"e":-3.67,"k":"A"},{"r":0.892,"e":-3.56,"k":"A"},{"r":0.896,"e":-3.46,"k":"A"},{"r":0.9,"e":-3.35,"k":"A"},{"r":0.904,"e":-3.24,"k":"A"},{"r":0.908,"e":-3.14,"k":"A"},{"r":0.912,"e":-3.03,"k":"A"},{"r":0.916,"e":-2.93,"k":"A"},{"r":0.92,"e":-2.82,"k":"A"},{"r":0.924,"e":-2.72,"k":"A"},{"r":0.928,"e":-2.61,"k":"A"},{"r":0.932,"e":-2.51,"k":"A"},{"r":0.936,"e":-2.4,"k":"A"},{"r":0.94,"e":-2.29,"k":"A"},{"r":0.944,"e":-2.19,"k":"A"},{"r":0.948,"e":-2.08,"k":"A"},{"r":0.952,"e":-1.98,"k":"A"},{"r":0.956,"e":-1.88,"k":"A"},{"r":0.96,"e":-1.79,"k":"A"},{"r":0.964,"e":-1.69,"k":"A"},{"r":0.968,"e":-1.59,"k":"A"},{"r":0.972,"e":-1.49,"k":"A"},{"r":0.976,"e":-1.39,"k":"A"},{"r":0.98,"e":-1.3,"k":"A"},{"r":0.984,"e":-1.2,"k":"A"},{"r":0.988,"e":-1.1,"k":"A"},{"r":0.992,"e":-1.01,"k":"A"},{"r":0.996,"e":-0.91,"k":"A"},
{"r":0.822,"e":-5.63,"k":"A"},{"r":0.826,"e":-5.49,"k":"A"},{"r":0.83,"e":-5.36,"k":"A"},{"r":0.834,"e":-5.22,"k":"A"},{"r":0.838,"e":-5.08,"k":"A"},{"r":0.842,"e":-4.95,"k":"A"},{"r":0.846,"e":-4.81,"k":"A"},{"r":0.85,"e":-4.67,"k":"A"},{"r":0.854,"e":-4.56,"k":"A"},{"r":0.858,"e":-4.46,"k":"A"},{"r":0.862,"e":-4.35,"k":"A"},{"r":0.866,"e":-4.25,"k":"A"},{"r":0.87,"e":-4.14,"k":"A"},{"r":0.874,"e":-4.04,"k":"A"},{"r":0.878,"e":-3.93,"k":"A"},{"r":0.882,"e":-3.83,"k":"A"},{"r":0.886,"e":-3.72,"k":"A"},{"r":0.89,"e":-3.61,"k":"A"},{"r":0.894,"e":-3.51,"k":"A"},{"r":0.898,"e":-3.4,"k":"A"},{"r":0.902,"e":-3.3,"k":"A"},{"r":0.906,"e":-3.19,"k":"A"},{"r":0.91,"e":-3.09,"k":"A"},{"r":0.914,"e":-2.98,"k":"A"},{"r":0.918,"e":-2.87,"k":"A"},{"r":0.922,"e":-2.77,"k":"A"},{"r":0.926,"e":-2.66,"k":"A"},{"r":0.93,"e":-2.56,"k":"A"},{"r":0.934,"e":-2.45,"k":"A"},{"r":0.938,"e":-2.35,"k":"A"},{"r":0.942,"e":-2.24,"k":"A"},{"r":0.946,"e":-2.14,"k":"A"},{"r":0.95,"e":-2.03,"k":"A"},{"r":0.954,"e":-1.93,"k":"A"},{"r":0.958,"e":-1.83,"k":"A"},{"r":0.962,"e":-1.74,"k":"A"},{"r":0.966,"e":-1.64,"k":"A"},{"r":0.97,"e":-1.54,"k":"A"},{"r":0.974,"e":-1.44,"k":"A"},{"r":0.978,"e":-1.34,"k":"A"},{"r":0.982,"e":-1.25,"k":"A"},{"r":0.986,"e":-1.15,"k":"A"},{"r":0.99,"e":-1.05,"k":"A"},{"r":0.994,"e":-0.96,"k":"A"},
{"r":0.852,"e":-4.5,"k":"A"},{"r":0.858,"e":-4.36,"k":"A"},{"r":0.864,"e":-4.22,"k":"A"},{"r":0.856,"e":-4.62,"k":"A"},{"r":0.862,"e":-4.47,"k":"A"},{"r":0.868,"e":-4.33,"k":"A"},
{"r":0.931,"e":-1.65,"k":"A"},{"r":0.9335,"e":-1.595,"k":"A"},{"r":0.936,"e":-1.54,"k":"A"},{"r":0.9385,"e":-1.485,"k":"A"},{"r":0.941,"e":-1.43,"k":"A"},{"r":0.9435,"e":-1.375,"k":"A"},{"r":0.946,"e":-1.32,"k":"A"},{"r":0.9485,"e":-1.27,"k":"A"},{"r":0.951,"e":-1.22,"k":"A"},{"r":0.9535,"e":-1.17,"k":"A"},{"r":0.956,"e":-1.12,"k":"A"},{"r":0.9585,"e":-1.07,"k":"A"},{"r":0.961,"e":-1.02,"k":"A"},{"r":0.9635,"e":-0.98,"k":"A"},{"r":0.966,"e":-0.94,"k":"A"},{"r":0.9685,"e":-0.9,"k":"A"},{"r":0.971,"e":-0.86,"k":"A"},{"r":0.9735,"e":-0.825,"k":"A"},{"r":0.976,"e":-0.79,"k":"A"},{"r":0.9785,"e":-0.755,"k":"A"},{"r":0.981,"e":-0.72,"k":"A"},{"r":0.9835,"e":-0.685,"k":"A"},{"r":0.986,"e":-0.65,"k":"A"},{"r":0.9885,"e":-0.615,"k":"A"},{"r":0.991,"e":-0.58,"k":"A"},{"r":0.9935,"e":-0.55,"k":"A"},{"r":0.996,"e":-0.52,"k":"A"},{"r":0.9985,"e":-0.49,"k":"A"},{"r":1.001,"e":-0.46,"k":"A"},{"r":1.0033,"e":-0.44,"k":"A"},{"r":1.0056,"e":-0.42,"k":"A"},
{"r":0.958,"e":-1.15,"k":"A"},{"r":0.962,"e":-1.1,"k":"A"},{"r":0.966,"e":-1.05,"k":"A"},
{"r":0.8577,"e":-4.1,"k":"A"},{"r":0.862,"e":-3.9,"k":"A"},{"r":0.8665,"e":-3.67,"k":"A"},{"r":0.871,"e":-3.41,"k":"A"},{"r":0.875,"e":-3.3,"k":"A"},{"r":0.879,"e":-3.5,"k":"A"},{"r":0.882,"e":-3.24,"k":"A"},{"r":0.887,"e":-3.13,"k":"A"},{"r":0.894,"e":-2.97,"k":"A"},{"r":0.9017,"e":-2.86,"k":"A"},{"r":0.917,"e":-2.59,"k":"A"},{"r":0.8258,"e":-5.87,"k":"A"}
]
},
"vconcat":[
{
"width":310.6,"height":184.5,
"title":{"text":"(a)"},
"layer":[
{"data":{"name":"segs"},"mark":{"type":"bar","width":6.2},
"encoding":{
"x":{"field":"t","type":"quantitative","scale":{"domain":[-3.63,37.47],"nice":false,"zero":false},"axis":{"values":[0,10,20,30],"title":"Temperature / °C"}},
"y":{"field":"a","type":"quantitative","scale":{"domain":[-12,6],"nice":false,"zero":false},"axis":{"values":[-12,-9,-6,-3,0,3,6],"title":"Error in ƒCO₂(υₚ) / µatm"}},
"y2":{"field":"b"},
"color":{"field":"r","type":"quantitative","scale":{"scheme":"plasma","domain":[0.822,1.0056]},"legend":{"type":"gradient","values":[0.85,0.9,0.95,1.0],"format":".2f","labelOffset":11,"titlePadding":1.5,"title":"Tᴄ / Aᴛ","titleFontStyle":"italic","encode":{"title":{"update":{"angle":{"value":-90}}}}}}
}},
{"data":{"name":"segs"},"transform":[{"filter":"datum.r == 0.985"}],"mark":{"type":"circle","size":30,"opacity":1},
"encoding":{"x":{"field":"t","type":"quantitative","axis":{"values":[0,10,20,30],"title":"Temperature / °C"}},"y":{"field":"b","type":"quantitative","axis":{"values":[-12,-9,-6,-3,0,3,6],"title":"Error in ƒCO₂(υₚ) / µatm"}},"color":{"field":"r","type":"quantitative","legend":{"type":"gradient","values":[0.85,0.9,0.95,1.0],"format":".2f","labelOffset":11,"titlePadding":1.5,"title":"Tᴄ / Aᴛ","titleFontStyle":"italic","encode":{"title":{"update":{"angle":{"value":-90}}}}}}}},
{"data":{"name":"segs"},"transform":[{"filter":"datum.r == 0.895"}],"mark":{"type":"circle","size":50,"opacity":1,"color":"#130a8a"},
"encoding":{"x":{"field":"t","type":"quantitative","axis":{"values":[0,10,20,30],"title":"Temperature / °C"}},"y":{"field":"a","type":"quantitative","axis":{"values":[-12,-9,-6,-3,0,3,6],"title":"Error in ƒCO₂(υₚ) / µatm"}}}},
{"data":{"name":"fits"},"mark":{"type":"line","color":"#2fc0c8","strokeWidth":2.2,"interpolate":"monotone"},
"encoding":{"x":{"field":"t","type":"quantitative","axis":{"values":[0,10,20,30],"title":"Temperature / °C"}},"y":{"field":"v","type":"quantitative","axis":{"values":[-12,-9,-6,-3,0,3,6],"title":"Error in ƒCO₂(υₚ) / µatm"}},"detail":{"field":"k"}}},
{"data":{"values":[{}]},"mark":{"type":"rule","color":"#333333","strokeWidth":1.3},"encoding":{"y":{"datum":0,"axis":{"values":[-12,-9,-6,-3,0,3,6],"title":"Error in ƒCO₂(υₚ) / µatm"}}}}
]
},
{
"width":310.6,"height":184.5,
"title":{"text":"(b)"},
"data":{"name":"rmsd"},
"layer":[
{"transform":[{"filter":"datum.r <= 0.965 && (datum.s != 18 || datum.r >= 0.9)"}],"mark":{"type":"line","strokeWidth":4,"strokeCap":"round","strokeJoin":"round"},
"encoding":{
"x":{"field":"r","type":"quantitative","scale":{"domain":[0.81,1.0149],"nice":false,"zero":false},"axis":{"values":[0.85,0.9,0.95,1.0],"format":".2f","title":"Tᴄ / Aᴛ","titleFontStyle":"italic"}},
"y":{"field":"m","type":"quantitative","scale":{"domain":[0,5.29],"nice":false},"axis":{"values":[0,1,2,3,4,5],"title":"RMSD of bₕ fit / µatm"}},
"color":{"field":"s","type":"quantitative","scale":{"scheme":"viridis","domain":[8.3,39.7]},"legend":{"type":"gradient","values":[10,20,30,39],"labelOffset":11,"titlePadding":5,"title":"Practical salinity","encode":{"title":{"update":{"angle":{"value":-90}}}}}},
"detail":{"field":"s","type":"quantitative"}
}},
{"transform":[{"filter":"datum.r >= 0.937 && (datum.s > 15 || (datum.s == 15 && datum.r >= 0.9599) || datum.s == 13 || datum.s == 11 || (datum.s == 9 && datum.r >= 0.9665))"}],"mark":{"type":"line","strokeWidth":8,"strokeCap":"round","strokeJoin":"round"},
"encoding":{
"x":{"field":"r","type":"quantitative","axis":{"values":[0.85,0.9,0.95,1.0],"format":".2f","title":"Tᴄ / Aᴛ","titleFontStyle":"italic"}},
"y":{"field":"m","type":"quantitative","axis":{"values":[0,1,2,3,4,5],"title":"RMSD of bₕ fit / µatm"}},
"color":{"field":"s","type":"quantitative","legend":{"type":"gradient","values":[10,20,30,39],"labelOffset":11,"titlePadding":5,"title":"Practical salinity","encode":{"title":{"update":{"angle":{"value":-90}}}}}},
"detail":{"field":"s","type":"quantitative"}
}},
{"mark":{"type":"point","shape":"circle","filled":false,"size":5,"strokeWidth":3,"opacity":1},
"encoding":{"x":{"field":"r","type":"quantitative","axis":{"values":[0.85,0.9,0.95,1.0],"format":".2f","title":"Tᴄ / Aᴛ","titleFontStyle":"italic"}},"y":{"field":"m","type":"quantitative","axis":{"values":[0,1,2,3,4,5],"title":"RMSD of bₕ fit / µatm"}},
"color":{"field":"s","type":"quantitative","legend":{"type":"gradient","values":[10,20,30,39],"labelOffset":11,"titlePadding":5,"title":"Practical salinity","encode":{"title":{"update":{"angle":{"value":-90}}}}}}}},
{"data":{"values":[{}]},"mark":{"type":"rule","color":"#2ad6e8","strokeWidth":2},"encoding":{"y":{"datum":1,"axis":{"values":[0,1,2,3,4,5],"title":"RMSD of bₕ fit / µatm"}}}}
]
},
{
"width":310.6,"height":184.5,
"title":{"text":"(c)"},
"data":{"name":"approx"},
"mark":{"type":"circle","opacity":1},
"encoding":{
"x":{"field":"r","type":"quantitative","scale":{"domain":[0.81,1.0149],"nice":false,"zero":false},"axis":{"values":[0.85,0.9,0.95,1.0],"format":".2f","title":"Tᴄ / Aᴛ","titleFontStyle":"italic"}},
"y":{"field":"e","type":"quantitative","scale":{"domain":[-6,0],"nice":false},"axis":{"values":[-6,-5,-4,-3,-2,-1,0],"title":"Error in approximation / %"}},
"size":{"field":"k","type":"nominal","scale":{"domain":["T","A"],"range":[48,72]},"legend":null},
"color":{"field":"k","type":"nominal","scale":{"domain":["T","A"],"range":["#1f2838","#abc2dd"]},"legend":{"orient":"bottom-right","title":null,"labelExpr":"datum.label == 'T' ? 'Tₓ − Tᴄ' : 'Aₓ − Aᴛ'","padding":6,"offset":7.5,"fillColor":"#ffffff","strokeColor":"#cccccc","cornerRadius":3,"symbolType":"circle","symbolSize":36,"symbolOpacity":0.8,"symbolOffset":6,"labelOffset":14,"rowPadding":3,"labelFontStyle":"italic"}}
}
}
]
}
